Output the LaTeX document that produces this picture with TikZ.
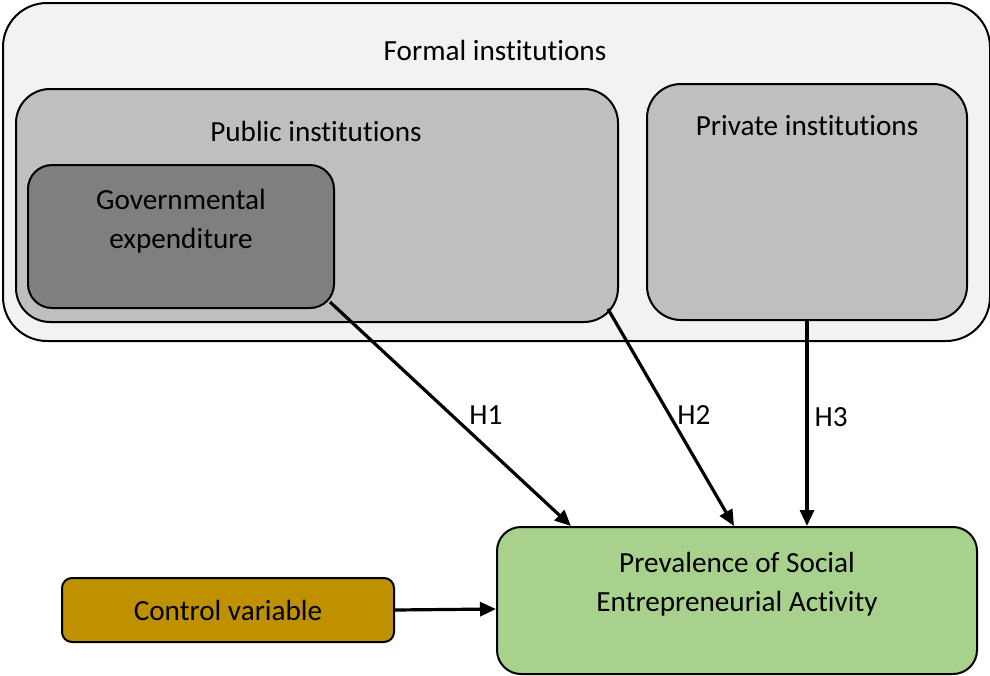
\documentclass[tikz,border=0pt]{standalone}
\usepackage{fontspec}
\setmainfont{Carlito}[RawFeature={-liga;-clig;-calt}]
\usetikzlibrary{positioning,arrows.meta}

\definecolor{formalgray}{HTML}{F2F2F2}
\definecolor{instgray}{HTML}{BFBFBF}
\definecolor{govgray}{HTML}{7F7F7F}
\definecolor{psegreen}{HTML}{A9D18E}
\definecolor{ctrlgold}{HTML}{BF9000}

\begin{document}
\begin{tikzpicture}[x=0.5pt,y=-0.5pt,
    box/.style={draw=black,line width=1pt,inner sep=0pt},
    txt/.style={font=\fontsize{14.6}{19.5}\selectfont,align=center,inner sep=0pt},
    hyp/.style={-{Triangle[length=8pt,width=7pt]},line width=1.6pt}]
    \useasboundingbox (0,0) rectangle (990,675);
    % nested institution boxes
    \node[box,fill=formalgray,rounded corners=22pt,minimum width=493.5pt,minimum height=169pt]
        (formal) at (496.5,172) {};
    \node[txt] (formaltxt) at (495,50) {Formal institutions};
    \node[box,fill=instgray,rounded corners=17pt,minimum width=301pt,minimum height=116.5pt]
        (public) at (317,205.5) {};
    \node[txt] (publictxt) at (316,131) {Public institutions};
    \node[box,fill=govgray,rounded corners=12pt,minimum width=153pt,minimum height=71.5pt]
        (gov) at (181,236.5) {};
    \node[txt] (govtxt) at (181,221.5) {Governmental\\expenditure};
    \node[box,fill=instgray,rounded corners=17pt,minimum width=160pt,minimum height=118pt]
        (private) at (807,202) {};
    \node[txt] (privatetxt) at (807,126) {Private institutions};
    % outcome and control
    \node[box,fill=psegreen,rounded corners=12pt,minimum width=240pt,minimum height=73.5pt]
        (pse) at (737,600.5) {};
    \node[txt] (psetxt) at (737,584) {Prevalence of Social\\Entrepreneurial Activity};
    \node[box,fill=ctrlgold,rounded corners=5pt,minimum width=166pt,minimum height=32pt]
        (ctrl) at (228,610) {\fontsize{14.6}{19.5}\selectfont Control variable};
    % hypotheses (start on the rounded corners)
    \draw[hyp] ([shift={(-2.5pt,3.5pt)}]gov.south east) -- ([xshift=37.5pt]pse.north west)
        node[txt,pos=.505,anchor=west,xshift=8pt] (h1) {H1};
    \draw[hyp] ([shift={(-5.5pt,7pt)}]public.south east) -- ([xshift=119pt]pse.north west)
        node[txt,pos=.49,anchor=west,xshift=3pt] (h2) {H2};
    \draw[hyp] (private.south) -- (private.south |- pse.north)
        node[txt,pos=.47,anchor=west,xshift=3pt] (h3) {H3};
    \draw[hyp] (ctrl.east) -- ([yshift=-4.25pt]pse.west);
\end{tikzpicture}
\end{document}
